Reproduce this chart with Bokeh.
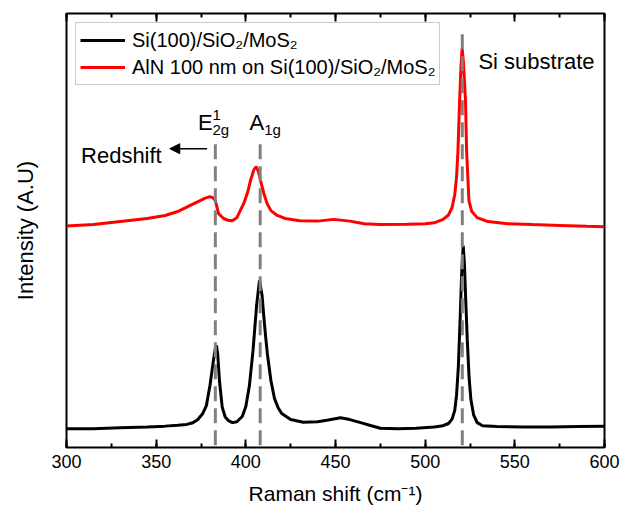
from bokeh.plotting import figure
from bokeh.models import (Range1d, LinearAxis, SingleIntervalTicker, FixedTicker,
                          Label, Arrow, NormalHead)
from bokeh.embed import file_html
from bokeh.resources import INLINE

# ---------------- data ----------------
shift_black = [300, 315, 330, 345, 355, 362, 367, 370, 373, 376,
               378, 380, 381, 382, 383, 383.6, 384.3, 385.3, 386.8, 388.5,
               390.5, 392.6, 395, 398, 400, 402, 404, 406, 407.6, 409,
               410, 411, 412, 414, 416, 418, 420, 425, 432, 440,
               446, 452.8, 458, 464, 470, 475, 485, 495, 505, 510,
               513, 515, 516.5, 517.5, 518.5, 519.5, 520.3, 521.2, 521.9, 522.6,
               523.5, 524.5, 525.5, 527, 529, 532, 540, 555, 570, 585,
               600]
int_black = [4.8, 4.8, 5.0, 5.2, 5.4, 5.6, 5.8, 6.1, 6.8, 8.3,
             10.1, 14.7, 17.7, 20.6, 23.2, 23.9, 22.0, 15.8, 9.8, 7.5,
             6.6, 6.2, 6.4, 7.6, 9.9, 14.7, 22.7, 33.0, 38.8, 35.6,
             30.7, 26.1, 22.0, 15.8, 11.7, 9.6, 8.3, 6.9, 6.3, 6.4,
             6.8, 7.3, 6.9, 6.2, 5.5, 4.9, 4.8, 4.9, 5.2, 5.5,
             6.0, 7.0, 9.0, 12.5, 19.0, 30.0, 40.0, 46.8, 42.5, 34.5,
             25.0, 16.5, 11.5, 8.0, 6.2, 5.5, 5.3, 5.2, 5.2, 5.3,
             5.4]

shift_red = [300, 315, 330, 345, 355, 362, 369, 374, 377, 380,
             381.5, 383, 384.8, 387.6, 390, 392.4, 395, 398.8, 401, 402.6,
             404.5, 405.8, 407, 408.2, 410, 411.9, 414, 417.5, 422, 430,
             440, 449, 458, 466, 475, 490, 500, 505, 510, 513,
             515, 516.5, 517.5, 518.3, 519.2, 520, 520.6, 521.3, 522.5, 523.1,
             524.4, 526, 529, 535, 546, 560, 575, 590, 600]
int_red = [51.3, 51.6, 52.3, 53.0, 53.7, 54.6, 56.0, 57.0, 57.6, 58.0,
           57.8, 57.1, 54.1, 53.0, 52.6, 52.5, 53.2, 56.4, 59.0, 61.7,
           64.2, 64.9, 63.8, 61.7, 58.8, 56.4, 54.8, 53.7, 53.0, 52.5,
           52.4, 52.8, 52.4, 51.8, 51.6, 51.7, 51.8, 52.0, 52.8, 53.8,
           55.5, 58.5, 62.5, 68.6, 80.0, 88.0, 92.0, 89.0, 80.0, 68.6,
           57.1, 54.6, 53.2, 52.3, 51.8, 51.6, 51.4, 51.2, 51.1]

label_black = "Si(100)/SiO\u2082/MoS\u2082"
label_red = "AlN 100 nm on Si(100)/SiO\u2082/MoS\u2082"

peak_positions = [383.0, 408.0, 520.7]
peak_line_top = [71.5, 71.5, 95.3]
peak_line_bottom = [1.0, 1.0, 1.0]

x_min, x_max = 300, 600
y_min, y_max = 0.5, 100
tick_interval = 50

FONT = "Liberation Sans"

# ---------------- figure ----------------
p = figure(width=631, height=510, output_backend="svg", toolbar_location=None,
           x_range=Range1d(x_min, x_max), y_range=Range1d(y_min, y_max),
           min_border_left=66, min_border_right=27, min_border_top=13,
           min_border_bottom=63, background_fill_color="white",
           border_fill_color="white")
p.xgrid.visible = False
p.ygrid.visible = False
p.outline_line_color = "black"
p.outline_line_width = 2
p.outline_line_alpha = 1.0

xa = p.xaxis[0]
xa.ticker = SingleIntervalTicker(interval=tick_interval, num_minor_ticks=2)
xa.axis_line_color = None
xa.major_tick_in = 8
xa.major_tick_out = 0
xa.minor_tick_in = 4
xa.minor_tick_out = 0
xa.major_tick_line_width = 2
xa.minor_tick_line_width = 2
xa.major_tick_line_color = "black"
xa.minor_tick_line_color = "black"
xa.major_label_text_font = FONT
xa.major_label_text_font_size = "18px"
xa.major_label_text_color = "black"
xa.major_label_standoff = 7
xa.axis_label = "Raman shift (cm\u207b\u00b9)"
xa.axis_label_text_font = FONT
xa.axis_label_text_font_size = "21px"
xa.axis_label_text_font_style = "normal"
xa.axis_label_text_color = "black"
xa.axis_label_standoff = 11

ya = p.yaxis[0]
ya.ticker = FixedTicker(ticks=[])
ya.axis_line_color = None
ya.major_tick_line_color = None
ya.minor_tick_line_color = None
ya.major_label_text_color = None
ya.major_label_text_font_size = "1px"
ya.axis_label = "Intensity (A.U)"
ya.axis_label_text_font = FONT
ya.axis_label_text_font_size = "22px"
ya.axis_label_text_font_style = "normal"
ya.axis_label_text_color = "black"
ya.axis_label_standoff = 29

top = LinearAxis(ticker=SingleIntervalTicker(interval=tick_interval, num_minor_ticks=2),
                 major_label_text_font_size="1px", major_label_text_color=None,
                 major_label_standoff=0,
                 axis_line_color=None, major_tick_in=8, major_tick_out=0,
                 minor_tick_in=4, minor_tick_out=0, major_tick_line_width=2,
                 minor_tick_line_width=2, major_tick_line_color="black",
                 minor_tick_line_color="black")
p.add_layout(top, "above")

# ---------------- curves ----------------
p.line(shift_black, int_black, line_color="black", line_width=3,
       legend_label=label_black)
p.line(shift_red, int_red, line_color="#ff0000", line_width=3,
       legend_label=label_red)

p.segment(x0=peak_positions, y0=peak_line_bottom, x1=peak_positions, y1=peak_line_top,
          line_color="#808080", line_width=3, line_dash="15 7")

# ---------------- legend ----------------
lg = p.legend[0]
lg.location = "top_left"
lg.margin = 9
lg.padding = 4
lg.spacing = 1
lg.glyph_width = 45
lg.glyph_height = 26
lg.label_height = 26
lg.label_standoff = 7
lg.label_text_font = FONT
lg.label_text_font_size = "20px"
lg.label_text_color = "black"
lg.border_line_color = "#999999"
lg.border_line_width = 1
lg.background_fill_color = "white"
lg.background_fill_alpha = 1.0

# ---------------- annotations ----------------
def add_text(x, y, txt, size):
    p.add_layout(Label(x=x, y=y, text=txt, text_font=FONT, text_font_size=size,
                       text_color="black", text_align="left",
                       text_baseline="alphabetic"))

add_text(373.3, 75.0, "E", "22px")
add_text(381.4, 76.8, "1", "15px")
add_text(381.4, 73.5, "2g", "15px")
add_text(402.0, 75.0, "A", "22px")
add_text(410.2, 73.5, "1g", "15px")
add_text(308.1, 67.4, "Redshift", "22px")
add_text(529.7, 89.0, "Si substrate", "22px")

p.add_layout(Arrow(end=NormalHead(size=10, fill_color="black", line_color="black"),
                   x_start=378.4, y_start=69.0, x_end=357.6, y_end=69.0,
                   line_color="black", line_width=1.5))

open("out.html", "w").write(file_html(p, INLINE))
